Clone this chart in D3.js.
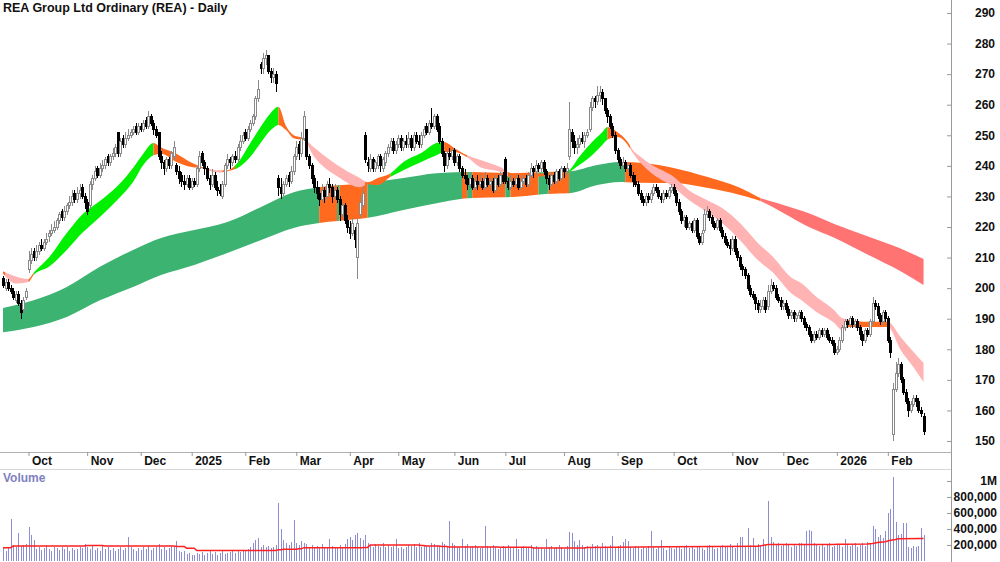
<!DOCTYPE html>
<html>
<head>
<meta charset="utf-8">
<script src="https://cdn.jsdelivr.net/npm/d3@7"></script>
<style>
  body { margin: 0; background: #fff; }
  svg { display: block; }
</style>
</head>
<body>
<svg id="chart" width="1000" height="562"></svg>
<script>
// daily candles, one entry per ASX trading day from 17 Sep 2024 to 20 Feb 2026
var opens = [
  203,200,202,200,199,196,198,195,193,197, 206,209,212,210,212,214,213,215,217,218,
  219,220,222,225,223,225,227,228,231,229, 231,233,230,228,227,234,236,239,237,239,
  240,243,241,243,244,251,244,249,247,249, 250,251,253,251,253,252,255,253,256,254,
  252,251,243,241,239,242,240,243,240,238, 237,235,234,236,233,235,234,239,244,241,
  239,236,234,237,233,232,230,234,240,242, 241,243,242,246,248,251,249,252,254,256,
  262,273,272,275,276,271,269,270,236,233, 231,234,237,235,238,243,247,244,249,252,
  243,240,236,233,231,229,232,230,234,233, 230,232,229,224,227,222,220,218,219,210,
  224,227,250,241,239,242,239,240,243,239, 241,244,246,248,245,247,249,246,248,247,
  249,246,250,248,247,250,253,251,254,253, 256,253,248,244,240,244,243,245,241,243,
  239,237,236,234,236,233,235,234,235,233, 236,234,235,232,236,234,237,242,235,233,
  235,234,236,233,235,236,234,237,239,238, 240,239,241,238,236,234,237,235,238,236,
  239,238,243,251,248,246,247,249,248,250, 252,259,262,261,263,264,262,258,256,253,
  250,245,242,240,241,239,240,237,235,234, 231,229,228,230,229,231,233,232,230,229,
  231,230,232,233,231,228,225,222,223,220, 221,219,222,217,215,219,224,225,223,221,
  220,222,219,217,215,214,213,216,212,210, 207,206,204,200,198,197,195,193,194,196,
  194,199,201,200,197,196,194,195,193,191, 192,190,191,192,190,188,187,185,183,185,
  184,186,185,186,184,183,182,179,180,183, 187,189,188,190,188,189,187,185,183,186,
  185,189,195,194,191,189,192,190,183,152, 167,172,175,170,166,163,160,162,164,163,
  160,158
];
var highs = [
  204,203,203,201,200,199,199,196,197,200, 212,213,213,214,215,216,216,218,219,221,
  222,223,225,226,227,228,230,232,232,233, 234,234,231,229,235,237,240,240,241,242,
  243,244,244,246,247,251,249,250,251,252, 252,253,254,254,254,255,256,258,257,255,
  253,251,245,242,243,243,245,248,241,240, 238,237,237,237,236,236,240,245,245,242,
  240,237,239,238,235,234,235,241,244,243, 244,245,247,250,251,252,253,255,257,263,
  268,274,277,278,276,272,272,271,237,236, 235,237,238,240,244,248,248,251,258,252,
  244,241,237,235,233,234,233,235,236,234, 234,233,230,228,228,224,222,223,220,223,
  230,233,251,243,244,243,242,244,244,243, 245,247,249,249,248,250,250,249,250,251,
  250,251,251,250,251,253,254,255,259,257, 257,254,249,245,245,246,246,246,244,244,
  240,239,237,238,237,236,237,237,236,238, 237,236,236,237,237,238,238,243,236,237,
  236,237,237,236,237,237,238,241,240,242, 241,242,242,239,237,238,238,239,239,240,
  240,241,261,252,250,249,250,251,251,252, 261,263,263,266,266,265,262,259,257,254,
  251,246,243,243,242,241,241,238,237,235, 232,230,231,231,232,234,234,233,231,232,
  232,233,234,234,232,229,226,224,224,222, 222,223,223,218,219,226,227,226,224,222,
  223,223,220,218,216,216,217,217,213,211, 208,207,205,201,199,198,196,196,197,197,
  201,203,202,201,198,197,196,196,194,193, 193,192,193,193,191,189,188,186,186,186,
  187,187,187,187,185,184,183,181,184,188, 190,190,191,191,190,190,188,186,187,187,
  190,197,196,195,192,193,193,191,184,169, 176,177,176,171,167,164,163,165,165,164,
  161,159
];
var lows = [
  200,199,199,198,196,195,194,190,192,196, 205,208,209,209,211,212,212,214,215,217,
  218,219,221,222,222,224,226,227,228,228, 229,229,226,224,226,232,235,236,236,238,
  239,240,240,242,243,243,243,246,246,248, 249,250,250,250,251,251,252,252,253,250,
  249,242,239,237,238,239,239,242,237,234, 233,232,233,232,232,233,233,238,240,237,
  235,232,233,232,230,230,229,233,239,239, 240,241,241,245,247,248,248,251,253,255,
  261,270,270,273,270,267,267,264,230,229, 230,233,233,234,237,242,242,243,248,242,
  239,234,231,229,227,228,228,229,231,228, 229,228,222,223,221,218,216,217,213,203,
  223,226,241,238,238,238,238,239,238,238, 240,243,245,244,244,246,245,245,246,246,
  245,245,247,246,246,249,250,250,252,252, 251,247,243,238,239,242,242,240,240,238,
  236,234,232,233,232,232,232,233,232,232, 233,232,231,231,233,233,234,234,232,232,
  233,233,232,232,234,233,233,236,236,237, 238,238,237,234,232,233,234,234,235,235,
  236,237,242,246,244,244,246,247,246,249, 251,258,259,260,261,260,257,254,252,249,
  244,241,239,239,238,238,236,233,233,230, 228,227,227,228,228,230,231,229,228,228,
  229,229,231,230,227,224,221,220,219,219, 218,218,216,214,214,218,223,222,220,219,
  219,218,216,214,213,211,212,211,209,206, 204,203,199,197,196,193,192,192,193,192,
  193,198,199,196,195,193,193,192,190,190, 189,189,190,189,187,186,184,182,182,183,
  183,184,184,183,182,181,178,178,179,182, 186,187,187,187,187,186,183,181,182,184,
  184,188,193,190,188,188,189,182,177,150, 166,171,169,165,162,158,159,161,161,159,
  158,152
];
var closes = [
  201,202,200,199,197,198,195,192,196,199, 209,211,210,212,214,213,215,216,218,219,
  220,222,224,223,225,227,228,230,229,231, 232,230,228,225,234,236,238,237,239,240,
  242,241,243,244,246,244,248,247,249,250, 251,252,251,253,252,254,253,256,254,252,
  250,243,241,239,242,240,244,246,238,236, 235,234,236,233,235,234,239,243,241,239,
  236,234,237,233,232,231,234,240,242,241, 243,242,246,248,250,249,252,254,256,262,
  265,272,275,276,271,269,270,267,233,231, 234,236,235,238,243,246,244,249,256,243,
  240,236,233,231,229,232,230,234,233,230, 232,229,224,227,222,220,218,221,216,221,
  228,231,242,240,242,239,241,243,240,242, 244,246,248,245,247,249,246,248,247,249,
  246,250,248,247,250,252,251,254,253,256, 252,248,244,240,244,243,245,241,243,239,
  237,236,234,236,233,235,234,235,233,236, 234,235,232,236,234,237,235,235,233,235,
  234,236,233,235,236,234,237,239,238,240, 239,241,238,236,234,237,235,238,236,239,
  238,239,252,248,246,247,249,248,250,251, 259,262,261,263,264,262,258,256,253,250,
  245,242,240,241,239,240,237,235,234,231, 229,228,230,229,231,233,232,230,229,231,
  230,232,233,231,228,225,222,223,220,221, 219,222,217,215,218,224,225,223,221,220,
  222,219,217,215,214,213,216,212,210,207, 206,204,200,198,197,195,193,194,196,193,
  199,201,200,197,196,194,195,193,191,192, 190,191,192,190,188,187,185,183,185,184,
  186,185,186,184,183,182,179,180,183,187, 189,188,190,188,189,187,185,183,186,185,
  189,195,194,191,189,192,190,183,179,167, 172,175,170,166,163,160,162,164,163,160,
  159,153
];
// volume in thousands of shares
var volumes = [
  160,120,180,525,200,170,350,190,200,210, 425,325,260,150,170,140,160,200,150,130,
  170,160,140,180,150,170,130,160,140,150, 170,160,210,180,150,190,140,160,130,200,
  150,170,140,160,130,150,180,140,160,300, 170,150,130,160,140,170,150,190,140,160,
  180,210,150,170,140,160,190,170,250,130, 110,120,90,100,80,70,100,90,110,80,
  100,120,90,110,80,100,120,90,100,110, 130,100,120,110,140,130,150,170,230,260,
  290,180,200,170,190,160,170,200,725,400, 260,230,200,240,510,220,200,250,230,210,
  180,200,170,190,160,210,180,170,280,190, 170,160,200,180,210,280,300,260,320,350,
  290,260,330,220,200,180,210,190,170,230, 180,200,170,190,270,160,180,150,170,200,
  190,210,180,220,170,200,190,180,230,210, 200,190,240,210,190,500,220,200,170,180,
  270,190,210,170,190,200,180,160,170,440, 190,170,200,180,150,160,190,170,200,160,
  180,280,150,170,190,160,180,200,170,190, 160,180,150,270,170,190,160,180,200,170,
  150,190,360,350,250,200,260,200,180,190, 170,210,190,200,180,220,190,170,200,310,
  170,190,200,240,270,250,180,160,190,170, 150,180,160,190,370,170,150,180,260,160,
  140,170,160,150,180,190,150,170,200,160, 180,150,170,190,160,140,170,200,180,150,
  160,190,200,170,180,210,190,160,220,300, 300,180,410,200,290,180,210,190,270,200,
  750,300,240,200,220,190,210,230,200,180, 210,190,220,230,200,380,390,380,220,200,
  190,210,180,200,230,170,190,210,200,180, 280,200,190,210,230,180,200,220,190,240,
  230,440,400,300,320,290,380,600,650,1050, 490,330,340,480,480,180,160,190,170,190,
  410,320
];

// volume average line (day index, thousands)
var volAvgIdx = [0,3,4,32,33,39,40,67,68,71,72,75,76,107,108,109,110,115,116,117,118,141,142,143,144,163,164,165,166,171,172,174,175,194,195,207,208,227,228,229,261,262,295,296,300,326,327,330,339,341,343,346,348,350,351,361];
var volAvg =    [167,167,187,187,195,195,188,188,182,182,160,160,132,132,140,140,146,146,152,152,167,167,170,170,200,200,193,193,187,187,180,180,175,175,172,172,164,164,162,170,177,177,185,185,206,206,208,208,214,218,230,242,258,268,278,282];

// short-term ribbon (day index, upper, lower)
var shortIdx = [0,5,10,12,18,25,31,38,45,51,55,59,62,68,74,78,84,88,92,97,101,105,108,111,114,118,122,125,131,140,143,147,152,157,164,170,173,177,182,187,195,200,210,220,222,226,231,235,237,241,245,247,250,254,263,269,276,282,289,296,302,309,313,319,326,329,332,339,347,352,357,361];
var shortUp =  [205.5,203.8,203,205,210,218,224,228.5,233.5,239.3,244,247.5,246,244,241,239.6,238.6,238.6,241,247.5,252.7,257.3,259.3,253,250,249,246,244,240.3,236,234.6,236,237.6,241.3,244.2,247.5,247.8,245.8,243.5,242,239.6,237.5,237.5,238,238.6,243,247.8,251,252.7,251,247.8,245.2,243,240.5,236.4,232,228.8,226.2,221.3,214.8,210.2,203.6,201.7,197.1,192.8,190.2,189.6,189,189,184,179.2,175.5];
var shortLo =  [204.8,201.5,202,204.3,207,212.5,218,223.3,229,234.7,240.3,243.5,244,241.3,239.6,239.2,237.8,238.2,239.3,243,247.5,251.7,253.4,251.7,249,248.4,243,240.3,236.6,233,234,233.7,236.4,238.6,241.3,243.5,244.5,244.5,242.8,239.6,238,236,236.5,237.2,238,240.3,243.5,246.8,248.5,249.4,246.8,244.2,241,237.8,233,228.8,224.9,221.3,215.7,209.2,205,198.4,196.1,192.2,188.6,186.3,187.3,187.3,187.3,179.8,174.2,169.3];
var shortRunStart = [0,1,10,12,59,80,86,91,108,118,142,152,173,182,198,221,237,246,331,347];
var shortRunColor = ["mid","bear","mid","bull","mid","bear","mid","bull","mid","bear","mid","bull","mid","bear","mid","bull","mid","bear","mid","bear"];

// long-term ribbon (day index, upper, lower)
var longIdx = [0,12,25,38,51,62,75,88,101,114,124,143,157,170,184,200,213,222,233,242,250,263,276,289,297,306,316,326,339,352,361];
var longUp =  [193.5,196,200.4,207,212.5,216.4,219,221.6,226.5,231.4,233,234.4,236,237.6,238,237.6,238,238.2,240.3,241.3,241,239.3,236.4,232.8,229.5,227.2,224.5,221,217,213,209.5];
var longLo =  [185.6,187.3,190.6,196,200.4,204.3,207.6,211.5,215.7,219.7,221.3,223,225.6,227.8,229.5,229.8,230.8,231,233.7,234.7,234.5,234.4,232.8,230.5,228.5,224.6,220,216.5,211,205.5,201];
var longRunStart = [0,124,131,132,143,180,182,184,197,199,210,214,222,244,297];
var longRunColor = ["bull","mid","bull","mid","bull","mid","bull","mid","bull","mid","bull","mid","bull","mid","bear"];

var priceTicks = [150,160,170,180,190,200,210,220,230,240,250,260,270,280,290];
var volTicks = [200,400,600,800,1000];
var holidays = ["2024-12-25","2024-12-26","2025-01-01","2025-01-27","2025-04-18","2025-04-21",
  "2025-04-25","2025-06-09","2025-12-25","2025-12-26","2026-01-01","2026-01-26"];

var shortColors = { bull: "#00f000", mid: "#ff6a1f", bear: "#ffb3b3" };
var longColors = { bull: "#3cb371", mid: "#ff6a1f", bear: "#ff7373" };
var FONT = "'Liberation Sans Narrow','Arial Narrow','Liberation Sans',Arial,sans-serif";

// trading days
var fmtDay = d3.timeFormat("%Y-%m-%d");
var days = d3.timeDay.range(new Date(2024, 8, 17), new Date(2026, 1, 21)).filter(function(d) {
  return d.getDay() > 0 && d.getDay() < 6 && holidays.indexOf(fmtDay(d)) < 0;
});
var n = closes.length;

var svg = d3.select("#chart");
var defs = svg.append("defs");

var x = d3.scaleLinear().domain([0, n - 1]).range([3, 3 + (n - 1) * 2.55]);
var y = d3.scaleLinear().domain([150, 290]).range([441, 13]);
var yv = d3.scaleLinear().domain([0, 1000]).range([561, 481]);

defs.append("clipPath").attr("id", "pricePanel")
  .append("rect").attr("x", 0).attr("y", 0).attr("width", 951).attr("height", 452);

var plot = svg.append("g").attr("clip-path", "url(#pricePanel)");

// ribbons
function drawBand(idx, up, lo, runStart, runColor, colors, name) {
  var pts = idx.map(function(v, k) { return { i: v, u: up[k], l: lo[k] }; });
  var area = d3.area()
    .x(function(d) { return x(d.i); })
    .y0(function(d) { return y(d.l); })
    .y1(function(d) { return y(d.u); })
    .curve(d3.curveMonotoneX);
  runStart.forEach(function(s, k) {
    var x0 = k === 0 ? 0 : x(s);
    var x1 = k + 1 < runStart.length ? x(runStart[k + 1]) : 951;
    defs.append("clipPath").attr("id", name + k)
      .append("rect").attr("x", x0).attr("y", 0).attr("width", x1 - x0).attr("height", 452);
    plot.append("path")
      .datum(pts)
      .attr("d", area)
      .attr("fill", colors[runColor[k]])
      .attr("clip-path", "url(#" + name + k + ")");
  });
}
drawBand(longIdx, longUp, longLo, longRunStart, longRunColor, longColors, "lr");
drawBand(shortIdx, shortUp, shortLo, shortRunStart, shortRunColor, shortColors, "sr");

// candles
var candleData = closes.map(function(c, i) {
  return { i: i, o: opens[i], h: highs[i], l: lows[i], c: c };
});
var cg = plot.append("g").attr("shape-rendering", "crispEdges");
cg.selectAll("line.wick")
  .data(candleData)
  .enter().append("line")
  .attr("class", "wick")
  .attr("x1", function(d) { return Math.round(x(d.i)) + 0.5; })
  .attr("x2", function(d) { return Math.round(x(d.i)) + 0.5; })
  .attr("y1", function(d) { return y(d.h); })
  .attr("y2", function(d) { return y(d.l); })
  .attr("stroke", function(d) { return d.c >= d.o ? "#8a8a8a" : "#000"; })
  .attr("stroke-width", 1);
cg.selectAll("rect.body")
  .data(candleData)
  .enter().append("rect")
  .attr("class", "body")
  .attr("x", function(d) { return Math.round(x(d.i)) - 0.5; })
  .attr("y", function(d) { return y(Math.max(d.o, d.c)); })
  .attr("width", 2)
  .attr("height", function(d) { return Math.max(1, Math.abs(y(d.o) - y(d.c))); })
  .attr("fill", function(d) { return d.c >= d.o ? "#fff" : "#000"; })
  .attr("stroke", function(d) { return d.c >= d.o ? "#8a8a8a" : "#000"; })
  .attr("stroke-width", 1);

// panel frame lines
svg.append("line").attr("x1", 0).attr("x2", 951).attr("y1", 452.5).attr("y2", 452.5).attr("stroke", "#b0b0b0");
svg.append("line").attr("x1", 0).attr("x2", 951).attr("y1", 469.5).attr("y2", 469.5).attr("stroke", "#d8d8d8");
svg.append("line").attr("x1", 951.5).attr("x2", 951.5).attr("y1", 0).attr("y2", 562).attr("stroke", "#9a9a9a");

// price axis
var ya = svg.append("g").attr("transform", "translate(951,0)")
  .call(d3.axisRight(y).tickValues(priceTicks).tickSize(0).tickFormat(d3.format("d")));
ya.select(".domain").remove();
ya.attr("font-family", FONT).attr("font-size", 12).attr("font-weight", "bold");
ya.selectAll(".tick line").attr("x2", -4).attr("stroke", "#999");
ya.selectAll(".tick text").attr("x", 44).attr("text-anchor", "end").attr("fill", "#111");

// month axis
var monthIdx = [], monthLab = [];
days.forEach(function(d, i) {
  if (i > 0 && d.getMonth() !== days[i - 1].getMonth()) {
    monthIdx.push(i);
    monthLab.push(d.getMonth() === 0 ? String(d.getFullYear()) : d3.timeFormat("%b")(d));
  }
});
var xa = svg.append("g").attr("transform", "translate(0,452)")
  .call(d3.axisBottom(x).tickValues(monthIdx).tickSize(4)
    .tickFormat(function(d, k) { return monthLab[k]; }));
xa.select(".domain").remove();
xa.attr("font-family", FONT).attr("font-size", 12).attr("font-weight", "bold");
xa.selectAll(".tick line").attr("stroke", "#999");
xa.selectAll(".tick text").attr("x", 3).attr("y", 4).attr("text-anchor", "start").attr("fill", "#111");

// volume bars
svg.append("g").attr("shape-rendering", "crispEdges")
  .selectAll("rect")
  .data(volumes)
  .enter().append("rect")
  .attr("x", function(v, i) { return Math.round(x(i)) - 0.3; })
  .attr("y", function(v) { return yv(v); })
  .attr("width", 1.6)
  .attr("height", function(v) { return yv(0) - yv(v); })
  .attr("fill", "#8d8dd3");

var avgLine = d3.line()
  .x(function(d) { return x(d[0]); })
  .y(function(d) { return yv(d[1]); });
svg.append("path")
  .datum(volAvgIdx.map(function(v, k) { return [v, volAvg[k]]; }))
  .attr("d", avgLine)
  .attr("fill", "none")
  .attr("stroke", "#ff2020")
  .attr("stroke-width", 1.5);

// volume axis
var va = svg.append("g").attr("transform", "translate(951,0)")
  .call(d3.axisRight(yv).tickValues(volTicks).tickSize(0)
    .tickFormat(function(v) { return v === 1000 ? "1M" : d3.format(",")(v * 1000); }));
va.select(".domain").remove();
va.attr("font-family", FONT).attr("font-size", 12).attr("font-weight", "bold");
va.selectAll(".tick line").attr("x2", -4).attr("stroke", "#999");
va.selectAll(".tick text").attr("x", 46).attr("text-anchor", "end").attr("fill", "#111");

// titles
svg.append("text")
  .attr("x", 3).attr("y", 12)
  .attr("font-family", FONT).attr("font-size", 12.5).attr("font-weight", "bold")
  .attr("fill", "#111")
  .text("REA Group Ltd Ordinary (REA) - Daily");
svg.append("text")
  .attr("x", 3).attr("y", 482)
  .attr("font-family", FONT).attr("font-size", 12).attr("font-weight", "bold")
  .attr("fill", "#8080c0")
  .text("Volume");
</script>
</body>
</html>
